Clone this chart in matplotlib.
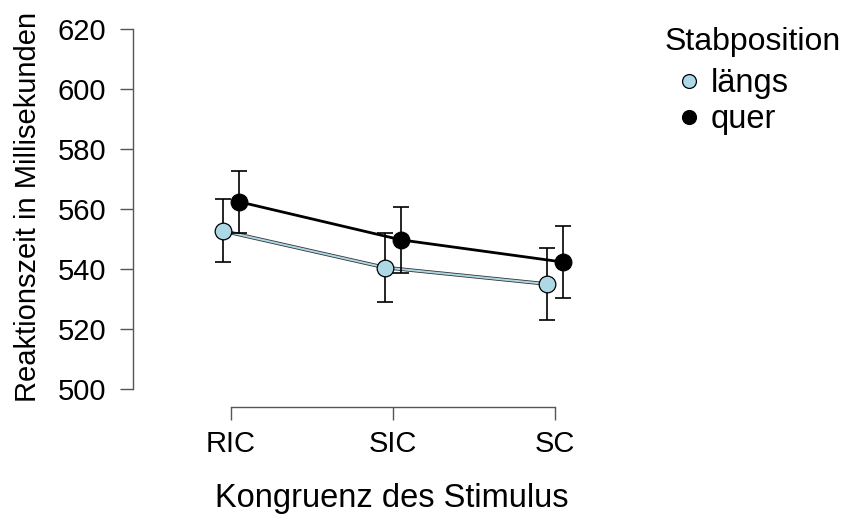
import matplotlib
matplotlib.use("Agg")
import matplotlib.pyplot as plt
import numpy as np

plt.rcParams['font.family'] = ['Liberation Sans', 'DejaVu Sans']

categories = ["RIC", "SIC", "SC"]
series_names = ["längs", "quer"]
laengs_mean = [552.7, 540.5, 535.0]
laengs_err = [10.5, 11.4, 12.0]
quer_mean = [562.4, 549.7, 542.3]
quer_err = [10.3, 11.1, 12.0]
yticks = [500, 520, 540, 560, 580, 600, 620]

W, H = 848, 519
fig = plt.figure(figsize=(W / 100, H / 100), dpi=100)
left_px, right_px, top_px, bottom_px = 133, 620, 29, 407
ax = fig.add_axes([left_px / W, 1 - bottom_px / H, (right_px - left_px) / W, (bottom_px - top_px) / H])

x = np.arange(len(categories))
unit = 162.0
ax.set_xlim((left_px - 231) / unit, (right_px - 231) / unit)
ax.set_ylim(500 - (bottom_px - 389) / 3.0, 620)

dodge = 8.2 / unit
xl = x - dodge
xq = x + dodge

ax.plot(xl, laengs_mean, color='#333333', lw=2.6, zorder=2, solid_capstyle='butt')
ax.plot(xl, laengs_mean, color='#ADD8E6', lw=1.4, zorder=2.1, solid_capstyle='butt')
ax.plot(xq, quer_mean, color='black', lw=2.0, zorder=2)

ax.errorbar(xl, laengs_mean, yerr=laengs_err, fmt='none', ecolor='black',
            elinewidth=1.2, capsize=6, capthick=1.2, zorder=3)
ax.errorbar(xq, quer_mean, yerr=quer_err, fmt='none', ecolor='black',
            elinewidth=1.2, capsize=6, capthick=1.2, zorder=3)

ax.plot(xl, laengs_mean, 'o', ms=12, mfc='#ADD8E6', mec='black', mew=0.9,
        zorder=4, label=series_names[0], linestyle='none')
ax.plot(xq, quer_mean, 'o', ms=12, mfc='black', mec='black', mew=0.9,
        zorder=4, label=series_names[1], linestyle='none')

for s in ['top', 'right']:
    ax.spines[s].set_visible(False)
spine_col = '#555555'
ax.spines['left'].set_bounds(500, 620)
ax.spines['bottom'].set_bounds(0, 2)
for s in ['left', 'bottom']:
    ax.spines[s].set_color(spine_col)
    ax.spines[s].set_linewidth(1.0)

ax.set_yticks(yticks)
ax.set_yticklabels([str(v) for v in yticks])
ax.set_xticks(x)
ax.set_xticklabels(categories)
ax.tick_params(axis='both', colors=spine_col, labelcolor='black', labelsize=21,
               length=9.5, width=1.0)
ax.tick_params(axis='y', pad=10)
ax.tick_params(axis='x', pad=7)

ax.set_xlabel("Kongruenz des Stimulus", fontsize=23.5)
ax.set_ylabel("Reaktionszeit in Millisekunden", fontsize=21)
ax.xaxis.set_label_coords((392 - left_px) / (right_px - left_px), -(499 - bottom_px) / (bottom_px - top_px))
ax.xaxis.label.set_va('center')
ax.yaxis.set_label_coords(-(133 - 28) / (right_px - left_px), (bottom_px - 207) / (bottom_px - top_px))
ax.yaxis.label.set_va('center')
ax.patch.set_alpha(0)

leg = ax.legend(title="Stabposition", loc='upper left',
                bbox_to_anchor=(665 / W, 1 - 27 / H), bbox_transform=fig.transFigure,
                frameon=False, fontsize=23.5, title_fontsize=23,
                handletextpad=-0.1, labelspacing=0.15, handlelength=1.5,
                borderaxespad=0, borderpad=0)
leg._legend_box.align = "left"
leg._legend_box.sep = 8
for h in leg.legend_handles:
    h.set_markersize(10)

fig.savefig("out.png", dpi=100)
